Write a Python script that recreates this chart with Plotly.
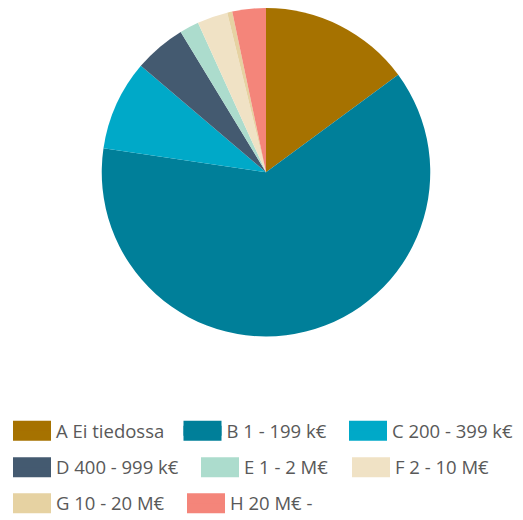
import plotly.graph_objects as go

labels = ["A Ei tiedossa", "B 1 - 199 k€", "C 200 - 399 k€", "D 400 - 999 k€",
          "E 1 - 2 M€", "F 2 - 10 M€", "G 10 - 20 M€", "H 20 M€ -"]
values = [14.9, 62.5, 8.9, 5.1, 1.9, 3.0, 0.5, 3.3]
colors = ["#a67200", "#007f99", "#00a9c8", "#445a70",
          "#acdccd", "#f0e2c5", "#e6d2a2", "#f4857a"]

# legend entry placement (px in figure coordinates)
leg_left = [0, 170.5, 336, 0, 188, 339, 0, 174]
leg_row = [429, 429, 429, 466, 466, 466, 502.5, 502.5]

W, H = 523, 520
FONT = "Open Sans, Noto Sans, sans-serif"
fig = go.Figure()
fig.add_trace(go.Pie(
    labels=labels, values=values, sort=False, direction="clockwise", rotation=0,
    marker=dict(colors=colors, line=dict(width=0)),
    textinfo="none", hoverinfo="label+percent", showlegend=False,
    domain=dict(x=[91/W, 425/W], y=[1-333/H, 1]),
))

layout_legends = {}
n = 0
for i, (lab, col) in enumerate(zip(labels, colors)):
    # main entry with text, plus two stacked swatch strips to give a 20px tall swatch
    for dy, name in ((0, lab), (-5, " "), (5, " ")):
        n += 1
        key = "legend" if n == 1 else f"legend{n}"
        fig.add_trace(go.Scatter(
            x=[None], y=[None], mode="lines", name=name,
            line=dict(color=col, width=10), legend=key, hoverinfo="skip",
        ))
        layout_legends[key] = dict(
            x=leg_left[i]/W, xanchor="left", y=1-(leg_row[i]+dy)/H, yanchor="middle",
            font=dict(size=18.5, color="#595959", family=FONT),
            bgcolor="rgba(0,0,0,0)", borderwidth=0, itemwidth=38,
        )

fig.update_layout(
    width=W, height=H,
    margin=dict(l=0, r=0, t=0, b=0),
    paper_bgcolor="white", plot_bgcolor="white",
    font=dict(family=FONT, size=18.5, color="#595959"),
    xaxis=dict(visible=False), yaxis=dict(visible=False),
    showlegend=True,
    **layout_legends,
)
fig.write_html("out.html")
